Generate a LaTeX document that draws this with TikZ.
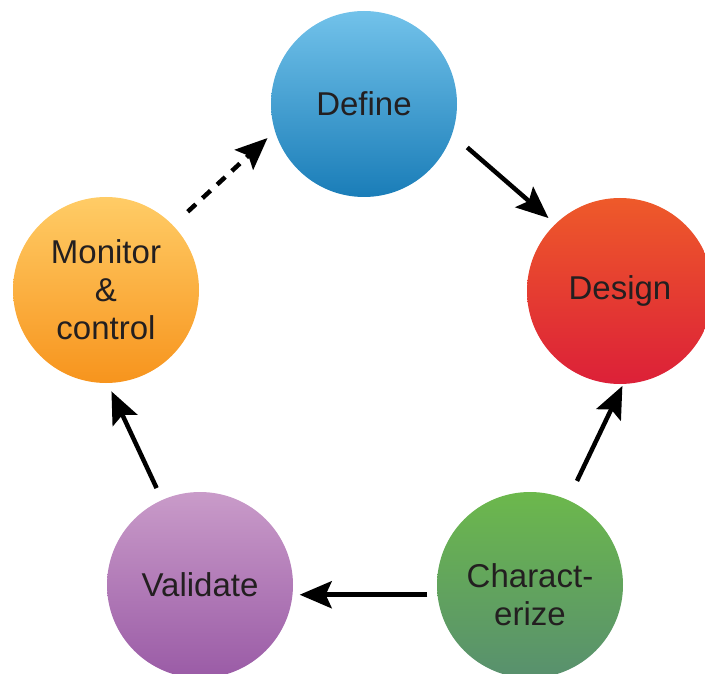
\documentclass[tikz,border=0pt]{standalone}
\usepackage{fontspec}
\setmainfont{Liberation Sans}
\usepackage{xcolor}
\usepackage{tikz}
\usetikzlibrary{arrows.meta, positioning}

\definecolor{defTop}{HTML}{72C2EA}
\definecolor{defBot}{HTML}{1A7DB8}
\definecolor{desTop}{HTML}{EE5A2A}
\definecolor{desBot}{HTML}{DC2038}
\definecolor{chaTop}{HTML}{6CB84C}
\definecolor{chaBot}{HTML}{58906E}
\definecolor{valTop}{HTML}{C99BC9}
\definecolor{valBot}{HTML}{9A5BA6}
\definecolor{monTop}{HTML}{FFCC66}
\definecolor{monBot}{HTML}{F7941D}
\definecolor{txt}{HTML}{231F20}

\begin{document}
\begin{tikzpicture}[x=1pt, y=-1pt,
    phasetext/.style={align=center, text=txt, font=\fontsize{33}{38}\selectfont},
    phase/.style={circle, minimum size=186pt, inner sep=0pt, phasetext},
    arrow/.style={line width=4.5pt, -{Stealth[length=32pt, width=27pt, inset=6pt]}}]

    \useasboundingbox (0,0) rectangle (705,674);

    % Phases
    \node [phase, top color=defTop, bottom color=defBot] (define) at (364,104) {Define};
    \node [phase, top color=desTop, bottom color=desBot] (design) at (620,291) {Design};
    \node [phase, top color=chaTop, bottom color=chaBot,
        label={[phasetext, yshift=-10pt]center:Charact-\\erize}] (charact) at (530,585) {};
    \node [phase, top color=valTop, bottom color=valBot] (validate) at (200,585) {Validate};
    \node [phase, top color=monTop, bottom color=monBot] (monitor) at (106,290) {Monitor\\\&\\control};

    % Arrows
    \draw [arrow, shorten <=20pt, shorten >=9pt] (define.-19) -- (design.134);
    \draw [arrow, shorten <=21pt, shorten >=2pt] (charact.66) -- (design.-88);
    \draw [arrow, shorten <=10pt, shorten >=7pt] (charact.-174) -- (validate.-6);
    \draw [arrow, shorten <=13pt, shorten >=9pt] (validate.114) -- (monitor.-89);
    \draw [arrow, dash pattern=on 11pt off 9pt, shorten <=20pt, shorten >=10pt] (monitor.44) -- (define.-163);
\end{tikzpicture}
\end{document}
